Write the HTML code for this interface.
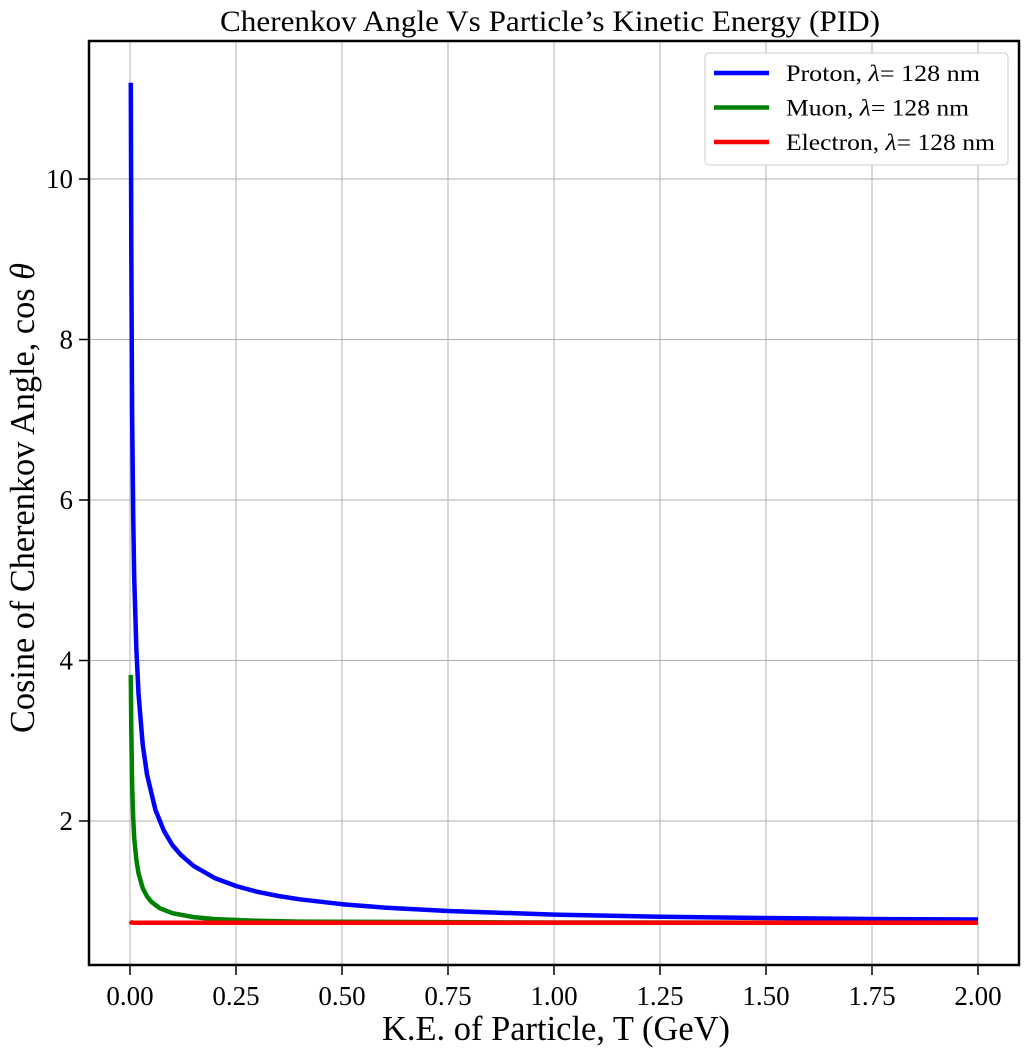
<!DOCTYPE html>
<html><head><meta charset="utf-8">
<style>
html,body{margin:0;padding:0;background:#fff;}
svg{display:block;font-family:"Liberation Serif",serif;}
</style></head>
<body>
<svg id="chart" width="1029" height="1057"></svg>
<script>
const xTicks=[0,0.25,0.5,0.75,1.0,1.25,1.5,1.75,2.0];
const xTickLabels=["0.00","0.25","0.50","0.75","1.00","1.25","1.50","1.75","2.00"];
const yTicks=[2,4,6,8,10];
const protonT=[0.002,0.003,0.005,0.0075,0.01,0.015,0.02,0.03,0.04,0.06,0.08,0.1,0.12,0.15,0.2,0.25,0.3,0.35,0.4,0.5,0.6,0.75,1.0,1.25,1.5,1.75,2.0];
const protonCos=[11.2,9.15,7.10,5.80,5.04,4.13,3.59,2.955,2.58,2.14,1.878,1.70,1.578,1.44,1.289,1.19,1.118,1.065,1.024,0.963,0.921,0.878,0.834,0.808,0.791,0.779,0.772];
const muonT=[0.002,0.003,0.005,0.0075,0.01,0.015,0.02,0.03,0.04,0.05,0.07,0.1,0.15,0.2,0.3,0.4,1.0,2.0];
const muonCos=[3.82,3.13,2.46,2.04,1.79,1.512,1.35,1.164,1.06,0.994,0.914,0.851,0.802,0.778,0.756,0.746,0.735,0.733];
const electronT=[0.0,0.003,0.01,0.5,1.0,2.0];
const electronCos=[0.75,0.735,0.733,0.733,0.733,0.733];

const L=89,R=1019,T=41,B=965;
const x=v=>130+v*424;
const y=v=>981.5-v*80.25;
const svg=document.getElementById('chart');
const NS='http://www.w3.org/2000/svg';
function mk(tag,attrs,parent){const e=document.createElementNS(NS,tag);for(const k in attrs)e.setAttribute(k,attrs[k]);(parent||svg).appendChild(e);return e;}

const grid=mk('g',{});


xTicks.forEach((v,i)=>{
  mk('line',{x1:x(v),x2:x(v),y1:T,y2:B,stroke:'#b0b0b0','stroke-width':1},grid);
  const tk=mk('line',{x1:x(v),x2:x(v),y1:B,y2:B+10,stroke:'#000','stroke-width':1.5});
  
  
  const t=mk('text',{x:x(v),y:B+40,'text-anchor':'middle','font-size':27});
  t.textContent=xTickLabels[i];
  
  
});
yTicks.forEach(v=>{
  mk('line',{x1:L,x2:R,y1:y(v),y2:y(v),stroke:'#b0b0b0','stroke-width':1},grid);
  const tk=mk('line',{x1:L-10,x2:L,y1:y(v),y2:y(v),stroke:'#000','stroke-width':1.5});
  
  
  const t=mk('text',{x:L-16,y:y(v)+9,'text-anchor':'end','font-size':27});
  t.textContent=String(v);
  
  
});

function line(ts,cs,color,name){
  const d=ts.map((t,i)=>(i?'L':'M')+x(t).toFixed(1)+','+y(cs[i]).toFixed(1)).join('');
  const p=mk('path',{d:d,fill:'none',stroke:color,'stroke-width':4.5,'stroke-linejoin':'round'});
  
  
}
line(protonT,protonCos,'#0000ff','proton-line');
line(muonT,muonCos,'#008000','muon-line');
line(electronT,electronCos,'#ff0000','electron-line');

const frame=mk('rect',{x:L,y:T,width:R-L,height:B-T,fill:'none',stroke:'#000','stroke-width':2.5});



const title=mk('text',{x:220,y:31,'font-size':30,textLength:660,lengthAdjust:'spacingAndGlyphs'});
title.textContent="Cherenkov Angle Vs Particle’s Kinetic Energy (PID)";



const xl=mk('text',{x:382,y:1040,'font-size':35,textLength:348,lengthAdjust:'spacingAndGlyphs'});
xl.textContent="K.E. of Particle, T (GeV)";



const yl=mk('text',{x:0,y:0,'font-size':35,transform:'translate(34,733) rotate(-90)',textLength:470,lengthAdjust:'spacingAndGlyphs'});
yl.innerHTML='Cosine of Cherenkov Angle, cos <tspan font-style="italic">θ</tspan>';



const leg=mk('g',{});


mk('rect',{x:705,y:53,width:303,height:112,rx:4,fill:'#fff',stroke:'#ccc','stroke-width':1},leg);
const entries=[['#0000ff','Proton',194],['#008000','Muon',183],['#ff0000','Electron',209]];
entries.forEach((e,i)=>{
  const g=mk('g',{},leg);
  
  
  const yy=73+i*34.5;
  mk('line',{x1:714,x2:769,y1:yy,y2:yy,stroke:e[0],'stroke-width':4.5},g);
  const t=mk('text',{x:786,y:yy+8,'font-size':23,textLength:e[2],lengthAdjust:'spacingAndGlyphs'},g);
  t.innerHTML=e[1]+', <tspan font-style="italic">λ</tspan>= 128 nm';
});
</script>
</body></html>
